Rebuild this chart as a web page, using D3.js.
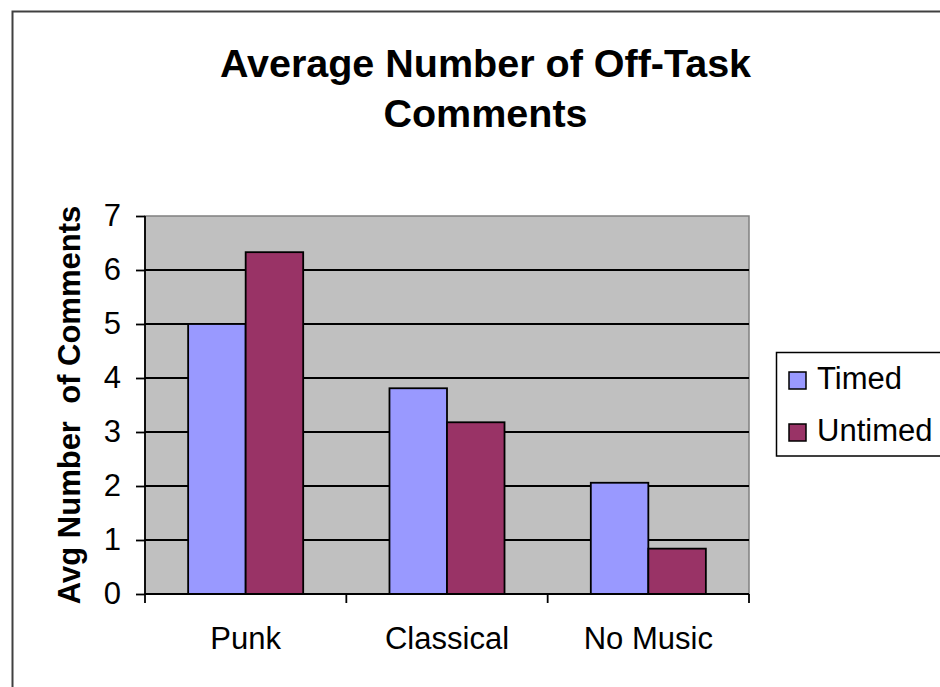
<!DOCTYPE html>
<html><head><meta charset="utf-8">
<script src="https://cdn.jsdelivr.net/npm/d3@7"></script>
<style>html,body{margin:0;padding:0;background:#fff;overflow:hidden}text{font-family:"Liberation Sans",Arial,sans-serif}</style>
</head><body>
<svg id="chart" width="940" height="687"></svg>
<script>
const categories = ["Punk", "Classical", "No Music"];
const seriesNames = ["Timed", "Untimed"];
const timedValues = [5.0, 3.81, 2.06];
const untimedValues = [6.33, 3.18, 0.84];
const yTickValues = [0, 1, 2, 3, 4, 5, 6, 7];
const titleLines = ["Average Number of Off-Task", "Comments"];
const yAxisTitle = "Avg Number  of Comments";
const colors = ["#9999FF", "#993366"];

const svg = d3.select("#chart");
const plot = {left: 145, right: 749, top: 216, bottom: 594};

// outer chart border
svg.append("rect").attr("x", 12.5).attr("y", 11.5).attr("width", 1000).attr("height", 800)
  .attr("fill", "#fff").attr("stroke", "#404040").attr("stroke-width", 2);

const x = d3.scaleBand().domain(categories).range([plot.left, plot.right]).paddingInner(0).paddingOuter(0);
const xs = d3.scaleBand().domain(seriesNames).range([0, x.bandwidth()]).paddingInner(0).paddingOuter(0.75);
const y = d3.scaleLinear().domain([0, 7]).range([plot.bottom, plot.top]);

// plot background
svg.append("rect").attr("x", plot.left).attr("y", plot.top)
  .attr("width", plot.right - plot.left).attr("height", plot.bottom - plot.top)
  .attr("fill", "#C0C0C0").attr("stroke", "#808080").attr("stroke-width", 1.5);

// gridlines
svg.append("g").selectAll("line").data(yTickValues.filter(v => v > 0 && v < 7)).join("line")
  .attr("x1", plot.left).attr("x2", plot.right)
  .attr("y1", d => y(d)).attr("y2", d => y(d))
  .attr("stroke", "#000").attr("stroke-width", 1.8);

// bars
const rows = categories.map((c, i) => ({cat: c, vals: [timedValues[i], untimedValues[i]]}));
const g = svg.append("g").selectAll("g").data(rows).join("g")
  .attr("transform", d => `translate(${x(d.cat)},0)`);
g.selectAll("rect").data(d => d.vals.map((v, j) => ({name: seriesNames[j], v, j}))).join("rect")
  .attr("x", d => xs(d.name)).attr("width", xs.bandwidth())
  .attr("y", d => y(d.v)).attr("height", d => y(0) - y(d.v))
  .attr("fill", d => colors[d.j]).attr("stroke", "#000").attr("stroke-width", 1.8);

// y axis
const yAxis = d3.axisLeft(y).tickValues(yTickValues).tickSize(9).tickPadding(15).tickFormat(d3.format("d"));
const ya = svg.append("g").attr("transform", `translate(${plot.left},0)`).call(yAxis);
ya.select(".domain").attr("stroke", "#000").attr("stroke-width", 1.8).attr("d", `M0,${plot.bottom}V${plot.top}`);
ya.selectAll(".tick line").attr("stroke", "#000").attr("stroke-width", 1.8);
ya.selectAll(".tick text").attr("font-size", 31).attr("fill", "#000").attr("font-family", "Liberation Sans, Arial");

// x axis
const edgeScale = d3.scaleLinear().domain([0, categories.length]).range([plot.left, plot.right]);
const xa = svg.append("g").attr("transform", `translate(0,${plot.bottom})`);
xa.append("line").attr("x1", plot.left).attr("x2", plot.right).attr("stroke", "#000").attr("stroke-width", 1.8);
xa.selectAll(".xt").data(d3.range(categories.length + 1)).join("line").attr("class", "xt")
  .attr("x1", d => edgeScale(d)).attr("x2", d => edgeScale(d)).attr("y1", 0).attr("y2", 9)
  .attr("stroke", "#000").attr("stroke-width", 1.8);
xa.selectAll("text").data(categories).join("text")
  .attr("x", d => x(d) + x.bandwidth() / 2).attr("y", 55)
  .attr("text-anchor", "middle").attr("font-size", 31).attr("fill", "#000").text(d => d);

// title
svg.append("g").selectAll("text").data(titleLines).join("text")
  .attr("x", 485.5).attr("y", (d, i) => 77 + i * 50)
  .attr("text-anchor", "middle").attr("font-size", 39.5).attr("font-weight", "bold").attr("fill", "#000")
  .text(d => d);

// y axis title
svg.append("text").attr("transform", "translate(80,405) rotate(-90)")
  .attr("text-anchor", "middle").attr("font-size", 31).attr("font-weight", "bold").attr("fill", "#000")
  .style("white-space", "pre").text(yAxisTitle);

// legend
const lg = svg.append("g");
lg.append("rect").attr("x", 776.5).attr("y", 352.5).attr("width", 300).attr("height", 103.5)
  .attr("fill", "#fff").attr("stroke", "#000").attr("stroke-width", 1.5);
const li = lg.selectAll("g").data(seriesNames).join("g")
  .attr("transform", (d, i) => `translate(0,${i * 52})`);
li.append("rect").attr("x", 789).attr("y", 372).attr("width", 17).attr("height", 17)
  .attr("fill", (d, i) => colors[i]).attr("stroke", "#000").attr("stroke-width", 1.5);
li.append("text").attr("x", 817).attr("y", 389).attr("font-size", 31).attr("fill", "#000").text(d => d);
</script>
</body></html>
